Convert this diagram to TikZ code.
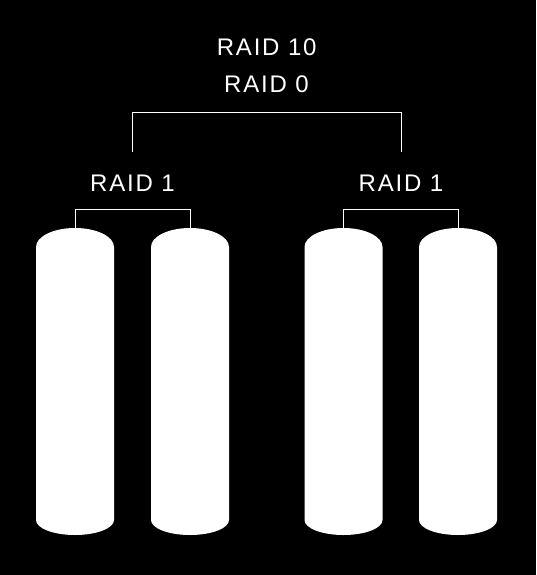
\documentclass[tikz,border=0pt]{standalone}
\usepackage{fontspec}
\setmainfont{Liberation Sans}[LetterSpace=7.5]
\begin{document}
\begin{tikzpicture}[x=1pt,y=-1pt,
  lbl/.style={text=white,font=\fontsize{24}{28}\selectfont,anchor=base,inner sep=0pt},
  wire/.style={draw=white,line width=1pt},
  disk/.style={fill=white,draw=none}]
\useasboundingbox[fill=black] (0,0) rectangle (536,575);
% disks
\foreach \n/\cx in {1/75,2/190,3/343.5,4/458}{
  \path[disk] (\cx-39,247) -- (\cx-39,520)
    arc[start angle=180,end angle=360,x radius=39pt,y radius=15pt]
    -- (\cx+39,247)
    arc[start angle=0,end angle=180,x radius=39pt,y radius=19pt] -- cycle;
  \coordinate (t\n) at (\cx,228);
}
% labels
\node[lbl] (r10) at (266.7,55.5) {RAID 10};
\node[lbl] (r0) at (266.5,92.7) {RAID 0};
\node[lbl] (ra) at (132.5,191) {RAID 1};
\node[lbl] (rb) at (401,191) {RAID 1};
\coordinate (ba) at (132.5,152);
\coordinate (bb) at (401,152);
% brackets
\draw[wire] (t1) -- ++(0,-19) -| (t2);
\draw[wire] (t3) -- ++(0,-19) -| (t4);
\draw[wire] (ba) -- ++(0,-39) -| (bb);
\end{tikzpicture}
\end{document}
